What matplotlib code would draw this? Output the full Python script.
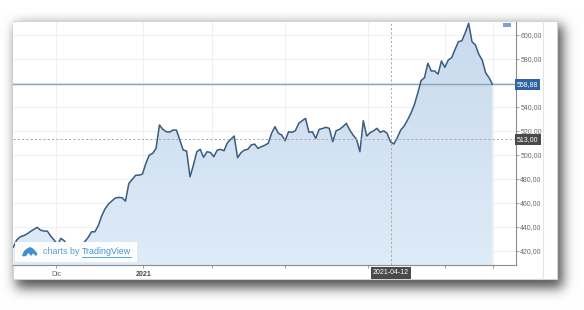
import numpy as np
import matplotlib
matplotlib.use("Agg")
import matplotlib.pyplot as plt
from matplotlib.patches import Rectangle, PathPatch, Polygon
from matplotlib.colors import LinearSegmentedColormap
from matplotlib.lines import Line2D

plt.rcParams['font.family'] = ['Liberation Sans', 'DejaVu Sans']

# ---------------- data ----------------
prices = [
    423.0, 429.0, 431.6, 432.5, 434.0, 436.0, 437.8, 439.5, 437.2, 436.4,
    436.4, 432.2, 429.0, 425.0, 430.3, 428.3, 424.0, 421.0, 419.0, 421.0,
    424.0, 427.5, 431.0, 435.8, 435.8, 441.0, 449.0, 455.0, 459.0, 461.5,
    464.0, 464.5, 464.2, 461.4, 476.2, 479.5, 483.0, 483.0, 484.0, 492.9,
    499.8, 501.2, 505.4, 524.9, 521.3, 519.3, 519.0, 520.7, 520.7, 512.4,
    504.0, 503.2, 481.7, 491.5, 502.6, 504.6, 498.0, 502.6, 502.0, 498.4,
    504.0, 504.6, 503.4, 510.1, 513.0, 515.7, 497.6, 501.8, 504.0, 504.6,
    508.2, 509.0, 505.4, 506.8, 508.0, 509.6, 518.0, 523.5, 518.0, 516.5,
    511.8, 519.3, 518.8, 520.1, 526.3, 528.5, 530.4, 518.8, 519.3, 513.8,
    521.3, 522.0, 523.0, 522.1, 511.0, 520.1, 521.3, 523.5, 526.3, 520.7,
    516.5, 513.0, 502.6, 528.5, 515.7, 518.5, 520.0, 522.1, 518.8, 520.1,
    518.0, 511.0, 509.0, 514.3, 520.7, 524.0, 529.0, 534.6, 541.6, 551.3,
    561.9, 564.4, 576.4, 570.0, 570.0, 567.4, 578.3, 573.0, 579.1, 581.1,
    588.0, 594.4, 595.2, 601.9, 609.8, 594.4, 591.7, 583.9, 579.1, 568.5,
    564.4, 558.88,
]
y_ticks = [420, 440, 460, 480, 500, 520, 540, 560, 580, 600]
y_tick_labels = ['420,00', '440,00', '460,00', '480,00', '500,00', '520,00',
                 '540,00', '', '580,00', '600,00']
x_tick_pos = [12.6, 38.2, 58.5, 80.0, 104.4, 127.1, 141.2]
x_tick_labels = ['Dic', '2021', '', '', '', '', '']
crosshair_idx = 111.1
crosshair_date = '2021-04-12'
crosshair_price = 513.00
last_price = prices[-1]

def fmt(v):
    return f"{v:.2f}".replace('.', ',')

# ---------------- figure ----------------
W, H = 584, 310
fig = plt.figure(figsize=(W / 100, H / 100), dpi=100)
fig.patch.set_facecolor('white')

def fx(px):
    return px / W

def fy(py):
    return 1 - py / H

# drop shadow
pl, pr, pt, pb = 13, 557, 21, 279
yy, xx = np.mgrid[0:H, 0:W]
mask = ((xx >= pl + 3) & (xx <= pr + 5) & (yy >= pt + 4) & (yy <= pb + 8)).astype(float)

def blur(a, s):
    r = np.arange(-3 * s, 3 * s + 1)
    k = np.exp(-0.5 * (r / s) ** 2)
    k /= k.sum()
    a = np.apply_along_axis(lambda row: np.convolve(row, k, mode='same'), 1, a)
    a = np.apply_along_axis(lambda col: np.convolve(col, k, mode='same'), 0, a)
    return a

sh = blur(mask, 6)
shade = 1 - 0.68 * sh
img = np.dstack([shade, shade, shade])
fig.figimage(img, xo=0, yo=0, origin='upper', zorder=-3)

# panel
panel = Rectangle((fx(pl), fy(pb)), fx(pr - pl), (pb - pt) / H, transform=fig.transFigure,
                  facecolor='white', edgecolor='#d4d4d4', linewidth=0.8, zorder=-2)
fig.patches.append(panel)
# separator in price scale area
fig.add_artist(Line2D([fx(543.3), fx(543.3)], [fy(pt), fy(pb)], color='#e4e4e4',
                      linewidth=0.8, zorder=-1))

# main axes
ax_l, ax_r, ax_t, ax_b = 13, 515.5, 22, 265
ax = fig.add_axes([fx(ax_l), fy(ax_b), (ax_r - ax_l) / W, (ax_b - ax_t) / H])
ax.set_facecolor('white')

x = np.arange(len(prices))
ymin, ymax = 408.1, 610.85
xmax = (ax_r - ax_l) / 3.4

# grid
for v in y_ticks:
    ax.axhline(v, color='#eef0f3', linewidth=0.8, zorder=0)
for p in x_tick_pos:
    ax.axvline(p, color='#eef0f3', linewidth=0.8, zorder=0)

# gradient fill
fb = ax.fill_between(x, prices, ymin, facecolor='none', edgecolor='none')
clip = PathPatch(fb.get_paths()[0], transform=ax.transData, facecolor='none', edgecolor='none')
ax.add_patch(clip)
cmap = LinearSegmentedColormap.from_list('g', ['#deebf8', '#c8daed'])
grad = np.linspace(0, 1, 256).reshape(-1, 1)
im = ax.imshow(grad, extent=[x[0], x[-1], ymin, max(prices)], origin='lower',
               aspect='auto', cmap=cmap, zorder=1)
im.set_clip_path(clip)
ax.set_ylim(ymin, ymax)
ax.set_xlim(-0.1, xmax)

# price line
ax.plot(x, prices, color='#3a5c80', linewidth=1.1, zorder=3, solid_joinstyle='round')

# last price line
ax.axhline(last_price, color='#86a3c0', linewidth=1.0, zorder=2)
# crosshair
ax.axhline(crosshair_price, color='#a8a8a8', linewidth=0.7, linestyle=(0, (2.2, 2.2)), zorder=4)
ax.axvline(crosshair_idx, color='#a8a8a8', linewidth=0.7, linestyle=(0, (2.2, 2.2)), zorder=4)

# axes styling
for s in ['top', 'left']:
    ax.spines[s].set_visible(False)
ax.spines['right'].set_color('#8c8c8c')
ax.spines['right'].set_linewidth(0.8)
ax.spines['bottom'].set_color('#8c8c8c')
ax.spines['bottom'].set_linewidth(0.8)

ax.yaxis.tick_right()
ax.set_yticks(y_ticks)
ax.set_yticklabels(y_tick_labels)
ax.tick_params(axis='y', direction='out', length=2.2, width=0.6, pad=1.2,
               colors='#8c8c8c', labelcolor='#6a6a6a', labelsize=5)
ax.set_xticks(x_tick_pos)
ax.set_xticklabels(x_tick_labels)
ax.tick_params(axis='x', direction='out', length=2.2, width=0.6, pad=1.8,
               colors='#8c8c8c', labelcolor='#6a6a6a', labelsize=5)
for lab in ax.get_xticklabels():
    if lab.get_text() == '2021':
        lab.set_fontweight('bold')
        lab.set_color('#444444')

# price tags
ax.annotate(fmt(last_price), xy=(1.0, last_price), xycoords=('axes fraction', 'data'),
            xytext=(1.5, 0), textcoords='offset pixels', ha='left', va='center',
            fontsize=5, color='white', zorder=10, annotation_clip=False,
            bbox=dict(boxstyle='square,pad=0.3', facecolor='#2f62a0', edgecolor='none'))
ax.annotate(fmt(crosshair_price), xy=(1.0, crosshair_price), xycoords=('axes fraction', 'data'),
            xytext=(1.5, 0), textcoords='offset pixels', ha='left', va='center',
            fontsize=5, color='white', zorder=10, annotation_clip=False,
            bbox=dict(boxstyle='square,pad=0.3', facecolor='#4a4a4a', edgecolor='none'))
ax.annotate(crosshair_date, xy=(crosshair_idx, 0.0), xycoords=('data', 'axes fraction'),
            xytext=(0, -8), textcoords='offset pixels', ha='center', va='center',
            fontsize=5, color='white', zorder=10, annotation_clip=False,
            bbox=dict(boxstyle='square,pad=0.3', facecolor='#4a4a4a', edgecolor='none'))

# small button top right
fig.patches.append(Rectangle((fx(503), fy(26.5)), fx(8), 3.8 / H, transform=fig.transFigure,
                             facecolor='#7aa3d4', edgecolor='none', zorder=5))

# TradingView attribution box
fig.patches.append(Rectangle((fx(15), fy(261.7)), fx(122), 20 / H, transform=fig.transFigure,
                             facecolor='white', edgecolor='none', alpha=0.95, zorder=5))
logo = [(22, 255.5), (24, 251), (27, 248.5), (30, 247), (33, 248.5), (35.5, 251),
        (37.5, 254), (36, 256), (33, 253.5), (31, 256), (28.5, 253), (26, 256), (23.5, 256.5)]
fig.patches.append(Polygon([(fx(a), fy(b)) for a, b in logo], closed=True,
                           transform=fig.transFigure, facecolor='#3f8fd2',
                           edgecolor='none', zorder=6))
t1 = fig.text(fx(43), fy(252), 'charts by ', fontsize=6.4, color='#5c9dd0',
              ha='left', va='center', zorder=6)
fig.canvas.draw()
bb = t1.get_window_extent()
t2 = fig.text(bb.x1 / W, fy(252), 'TradingView', fontsize=6.4, color='#3b96d6',
              ha='left', va='center', zorder=6)
fig.canvas.draw()
bb2 = t2.get_window_extent()
fig.add_artist(Line2D([bb2.x0 / W, bb2.x1 / W], [fy(256.5), fy(256.5)], color='#3b96d6',
                      linewidth=0.6, zorder=6))

fig.savefig('out.png', dpi=100, facecolor='white')
